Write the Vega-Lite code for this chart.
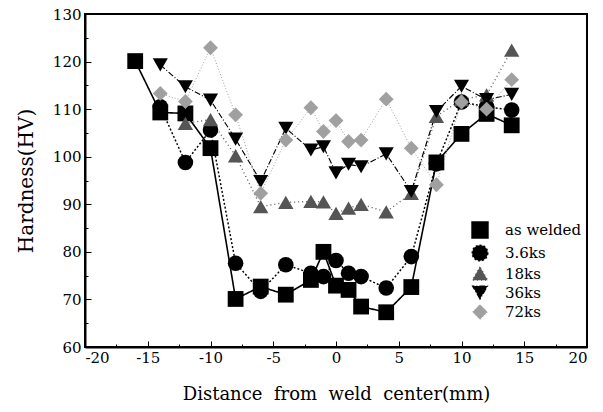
{
  "$schema": "https://vega.github.io/schema/vega-lite/v6.json",
  "width": 502,
  "height": 333,
  "autosize": {"type": "none"},
  "padding": {"left": 85, "top": 14, "right": 16, "bottom": 65},
  "background": "white",
  "config": {
    "view": {"stroke": "black", "strokeWidth": 2},
    "font": "DejaVu Serif",
    "axis": {
      "grid": false,
      "domainColor": "black",
      "domainWidth": 2,
      "tickColor": "black",
      "labelColor": "black",
      "titleColor": "black",
      "labelFont": "DejaVu Serif",
      "titleFont": "DejaVu Serif",
      "labelFontSize": 15,
      "titleFontWeight": "normal"
    },
    "legend": {"labelFont": "DejaVu Serif"}
  },
  "data": {
    "values": [
      {"series": "as welded", "x": -16, "y": 120.1},
      {"series": "as welded", "x": -14, "y": 109.3},
      {"series": "as welded", "x": -12, "y": 109.1},
      {"series": "as welded", "x": -10, "y": 101.8},
      {"series": "as welded", "x": -8, "y": 70.1},
      {"series": "as welded", "x": -6, "y": 72.7},
      {"series": "as welded", "x": -4, "y": 71.0},
      {"series": "as welded", "x": -2, "y": 74.1},
      {"series": "as welded", "x": -1, "y": 80.0},
      {"series": "as welded", "x": 0, "y": 72.9},
      {"series": "as welded", "x": 1, "y": 72.0},
      {"series": "as welded", "x": 2, "y": 68.5},
      {"series": "as welded", "x": 4, "y": 67.3},
      {"series": "as welded", "x": 6, "y": 72.6},
      {"series": "as welded", "x": 8, "y": 98.8},
      {"series": "as welded", "x": 10, "y": 104.8},
      {"series": "as welded", "x": 12, "y": 109.0},
      {"series": "as welded", "x": 14, "y": 106.6},
      {"series": "3.6ks", "x": -14, "y": 110.5},
      {"series": "3.6ks", "x": -12, "y": 98.8},
      {"series": "3.6ks", "x": -10, "y": 105.6},
      {"series": "3.6ks", "x": -8, "y": 77.6},
      {"series": "3.6ks", "x": -6, "y": 71.7},
      {"series": "3.6ks", "x": -4, "y": 77.3},
      {"series": "3.6ks", "x": -2, "y": 75.5},
      {"series": "3.6ks", "x": -1, "y": 74.8},
      {"series": "3.6ks", "x": 0, "y": 78.2},
      {"series": "3.6ks", "x": 1, "y": 75.5},
      {"series": "3.6ks", "x": 2, "y": 74.8},
      {"series": "3.6ks", "x": 4, "y": 72.4},
      {"series": "3.6ks", "x": 6, "y": 79.0},
      {"series": "3.6ks", "x": 8, "y": 98.5},
      {"series": "3.6ks", "x": 10, "y": 111.5},
      {"series": "3.6ks", "x": 12, "y": 110.5},
      {"series": "3.6ks", "x": 14, "y": 109.8},
      {"series": "18ks", "x": -12, "y": 107.0},
      {"series": "18ks", "x": -10, "y": 107.8},
      {"series": "18ks", "x": -8, "y": 100.2},
      {"series": "18ks", "x": -6, "y": 89.5},
      {"series": "18ks", "x": -4, "y": 90.4},
      {"series": "18ks", "x": -2, "y": 90.6},
      {"series": "18ks", "x": -1, "y": 90.5},
      {"series": "18ks", "x": 0, "y": 88.1},
      {"series": "18ks", "x": 1, "y": 89.2},
      {"series": "18ks", "x": 2, "y": 90.0},
      {"series": "18ks", "x": 4, "y": 88.4},
      {"series": "18ks", "x": 6, "y": 92.3},
      {"series": "18ks", "x": 8, "y": 108.5},
      {"series": "18ks", "x": 10, "y": 112.0},
      {"series": "18ks", "x": 12, "y": 113.0},
      {"series": "18ks", "x": 14, "y": 122.4},
      {"series": "36ks", "x": -14, "y": 119.3},
      {"series": "36ks", "x": -12, "y": 114.7},
      {"series": "36ks", "x": -10, "y": 111.9},
      {"series": "36ks", "x": -8, "y": 103.7},
      {"series": "36ks", "x": -6, "y": 94.8},
      {"series": "36ks", "x": -4, "y": 106.0},
      {"series": "36ks", "x": -2, "y": 101.4},
      {"series": "36ks", "x": -1, "y": 102.1},
      {"series": "36ks", "x": 0, "y": 96.6},
      {"series": "36ks", "x": 1, "y": 98.4},
      {"series": "36ks", "x": 2, "y": 97.9},
      {"series": "36ks", "x": 4, "y": 100.6},
      {"series": "36ks", "x": 6, "y": 92.7},
      {"series": "36ks", "x": 8, "y": 109.5},
      {"series": "36ks", "x": 10, "y": 114.8},
      {"series": "36ks", "x": 12, "y": 112.0},
      {"series": "36ks", "x": 14, "y": 113.1},
      {"series": "72ks", "x": -14, "y": 113.3},
      {"series": "72ks", "x": -12, "y": 111.6},
      {"series": "72ks", "x": -10, "y": 122.9},
      {"series": "72ks", "x": -8, "y": 108.8},
      {"series": "72ks", "x": -6, "y": 92.3},
      {"series": "72ks", "x": -4, "y": 103.5},
      {"series": "72ks", "x": -2, "y": 110.3},
      {"series": "72ks", "x": -1, "y": 105.3},
      {"series": "72ks", "x": 0, "y": 107.6},
      {"series": "72ks", "x": 1, "y": 103.2},
      {"series": "72ks", "x": 2, "y": 103.5},
      {"series": "72ks", "x": 4, "y": 112.1},
      {"series": "72ks", "x": 6, "y": 101.8},
      {"series": "72ks", "x": 8, "y": 94.1},
      {"series": "72ks", "x": 10, "y": 111.5},
      {"series": "72ks", "x": 12, "y": 110.0},
      {"series": "72ks", "x": 14, "y": 116.2}
    ]
  },
  "encoding": {
    "x": {
      "field": "x",
      "type": "quantitative",
      "scale": {"domain": [-20, 20], "nice": false},
      "axis": {
        "title": "Distance\u00a0\u00a0from\u00a0\u00a0weld\u00a0\u00a0center(mm)",
        "values": [-20, -17.5, -15, -12.5, -10, -7.5, -5, -2.5, 0, 2.5, 5, 7.5, 10, 12.5, 15, 17.5, 20],
        "labelExpr": "datum.value % 5 === 0 ? '' + datum.value : ''",
        "titleFontSize": 18,
        "tickSize": {"condition": {"test": "datum.value % 5 === 0", "value": -6}, "value": -3},
        "labelPadding": 9,
        "titlePadding": 20
      }
    },
    "y": {
      "field": "y",
      "type": "quantitative",
      "scale": {"domain": [60, 130], "nice": false, "zero": false},
      "axis": {
        "title": "Hardness(HV)",
        "values": [60, 65, 70, 75, 80, 85, 90, 95, 100, 105, 110, 115, 120, 125, 130],
        "labelExpr": "datum.value % 10 === 0 ? '' + datum.value : ''",
        "titleFontSize": 20,
        "tickSize": {"condition": {"test": "datum.value % 10 === 0", "value": -6}, "value": -3},
        "labelPadding": 10,
        "titlePadding": 16
      }
    }
  },
  "layer": [
    {
      "mark": {"type": "line"},
      "encoding": {
        "detail": {"field": "series"},
        "color": {
          "field": "series", "type": "nominal",
          "scale": {"domain": ["as welded", "3.6ks", "18ks", "36ks", "72ks"], "range": ["black", "black", "#555555", "black", "#a0a0a0"]}
        },
        "strokeDash": {
          "field": "series", "type": "nominal", "legend": null,
          "scale": {"domain": ["as welded", "3.6ks", "18ks", "36ks", "72ks"], "range": [[1, 0], [2, 2], [1, 3], [6, 2, 1, 2], [1, 2]]}
        },
        "strokeWidth": {
          "field": "series", "type": "nominal", "legend": null,
          "scale": {"domain": ["as welded", "3.6ks", "18ks", "36ks", "72ks"], "range": [1.6, 1, 1, 1.2, 1]}
        }
      }
    },
    {
      "mark": {"type": "point", "filled": true, "opacity": 1},
      "encoding": {
        "color": {
          "field": "series", "type": "nominal",
          "scale": {"domain": ["as welded", "3.6ks", "18ks", "36ks", "72ks"], "range": ["black", "black", "#555555", "black", "#a0a0a0"]},
          "legend": {
            "title": null,
            "orient": "none",
            "legendX": 386,
            "legendY": 207,
            "labelFontSize": 15,
            "labelColor": "black",
            "symbolSize": 140,
            "rowPadding": 0,
            "labelOffset": 16
          }
        },
        "shape": {
          "field": "series", "type": "nominal",
          "scale": {"domain": ["as welded", "3.6ks", "18ks", "36ks", "72ks"], "range": ["square", "circle", "triangle-up", "triangle-down", "diamond"]}
        },
        "size": {
          "field": "series", "type": "nominal", "legend": null,
          "scale": {"domain": ["as welded", "3.6ks", "18ks", "36ks", "72ks"], "range": [250, 220, 170, 220, 170]}
        }
      }
    }
  ]
}
